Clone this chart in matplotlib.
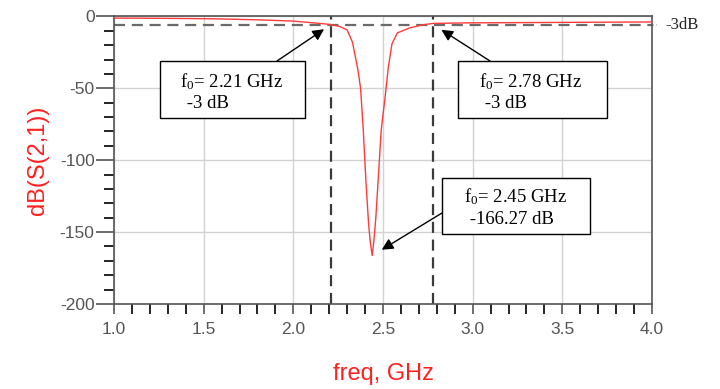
import matplotlib
matplotlib.use("Agg")
import matplotlib.pyplot as plt
from matplotlib.patches import Rectangle

plt.rcParams['font.family'] = ['Liberation Sans', 'DejaVu Sans']
plt.rcParams['axes.unicode_minus'] = False
plt.rcParams['mathtext.fontset'] = 'custom'
plt.rcParams['mathtext.rm'] = 'Liberation Serif'
plt.rcParams['mathtext.it'] = 'Liberation Serif:italic'

# S21 of the notch filter
freq = [1.00, 1.30, 1.55, 1.80, 2.00, 2.13, 2.21, 2.26, 2.30, 2.33, 2.36,
        2.375, 2.39, 2.405, 2.42, 2.43, 2.44, 2.45, 2.46, 2.475, 2.49, 2.51,
        2.53, 2.55, 2.58, 2.65, 2.72, 2.78, 3.00, 3.50, 4.00]
s21_db = [-1.1, -1.3, -1.6, -2.3, -3.2, -4.6, -5.6, -7.0, -9.3, -18, -37,
          -50, -79, -115, -145, -158, -166.27, -155, -140, -110, -79, -58,
          -35, -19, -11.4, -7.9, -5.8, -4.8, -4.4, -4.1, -3.8]

# marker lines (the "-3dB" level sits here in the drawing)
level_db = -5.6
f_low, f_high = 2.21, 2.78

x_ticks = [1.0, 1.5, 2.0, 2.5, 3.0, 3.5, 4.0]
y_ticks = [0, -50, -100, -150, -200]

notes = ["f$_{\\mathrm{0}}$= 2.21 GHz", " -3 dB",
         "f$_{\\mathrm{0}}$= 2.78 GHz", " -3 dB",
         "f$_{\\mathrm{0}}$= 2.45 GHz", " -166.27 dB"]

W, H = 720, 389
fig = plt.figure(figsize=(W / 100, H / 100), dpi=100)
ax = fig.add_axes([114 / W, (H - 304) / H, 538 / W, 287.5 / H])

ax.plot(freq, s21_db, color='#ff3a3a', lw=1.0, zorder=3)

ax.axhline(level_db, color='#6a6a6a', lw=1.6, dashes=(5, 3), zorder=2)
ax.axvline(f_low, color='#3a3a3a', lw=1.6, dashes=(5, 3), zorder=2)
ax.axvline(f_high, color='#3a3a3a', lw=1.6, dashes=(5, 3), zorder=2)
ax.plot([4.0, 4.03], [level_db, level_db], ls=':', color='#999999', lw=1.2, clip_on=False)
ax.text(1.025, level_db, "-3dB", transform=ax.get_yaxis_transform(),
        family='Liberation Serif', fontsize=12, va='center', ha='left', color='#222222')

ax.set_xlim(1.0, 4.0)
ax.set_ylim(-200, 0)
ax.set_xticks(x_ticks)
ax.set_yticks(y_ticks)
ax.set_xticklabels([f"{v:.1f}" for v in x_ticks])
ax.set_yticklabels([str(v) for v in y_ticks])
ax.set_xticks([1.0 + 0.1 * i for i in range(31)], minor=True)
ax.set_yticks([-10 * i for i in range(21)], minor=True)

ax.grid(True, which='major', color='#d2d2d2', lw=1.0)
ax.set_axisbelow(True)
for s in ax.spines.values():
    s.set_color('#555555')
    s.set_linewidth(1.2)

ax.tick_params(axis='both', colors='#555555', labelcolor='#555555', labelsize=12.5)
ax.tick_params(axis='y', which='major', length=13, width=1.2, pad=1)
ax.tick_params(axis='y', which='minor', length=7, width=1.2)
ax.tick_params(axis='x', which='both', length=7, width=1.2, pad=6)

ax.set_ylabel("dB(S(2,1))", color='#ff2020', fontsize=17, va='center')
ax.yaxis.set_label_coords((38 - 114) / 538, 0.5)
ax.set_xlabel("freq, GHz", color='#ff2020', fontsize=17, va='center')
ax.xaxis.set_label_coords(0.5, (304 - 374) / 287.5)

# annotation boxes (figure pixels, measured from top)
boxes = [(160, 61, 145, 57), (458, 61, 149, 57), (442, 178, 148, 56)]
for (x0, y0, w, h) in boxes:
    fig.add_artist(Rectangle((x0 / W, (H - y0 - h) / H), w / W, h / H,
                             transform=fig.transFigure, facecolor='white',
                             edgecolor='black', lw=1.0, zorder=5))

text_pos = [(180, 82), (182, 103), (479, 82), (480, 103), (464, 197), (465, 219)]
for (tx, ty), s in zip(text_pos, notes):
    fig.text(tx / W, (H - ty) / H, s, family='Liberation Serif', fontsize=13.5,
             va='center', ha='left', color='black', zorder=6)

arrow_kw = dict(arrowstyle='-|>', color='black', lw=1.0, mutation_scale=17)
ax.annotate("", xy=(f_low, level_db), xytext=(277, H - 61),
            textcoords='figure pixels', arrowprops=dict(shrinkA=0, shrinkB=6, **arrow_kw))
ax.annotate("", xy=(f_high, level_db), xytext=(490, H - 61),
            textcoords='figure pixels', arrowprops=dict(shrinkA=0, shrinkB=7, **arrow_kw))
ax.annotate("", xy=(2.44, -166.27), xytext=(442, H - 213),
            textcoords='figure pixels', arrowprops=dict(shrinkA=0, shrinkB=8, **arrow_kw))

fig.savefig("out.png", dpi=100)
